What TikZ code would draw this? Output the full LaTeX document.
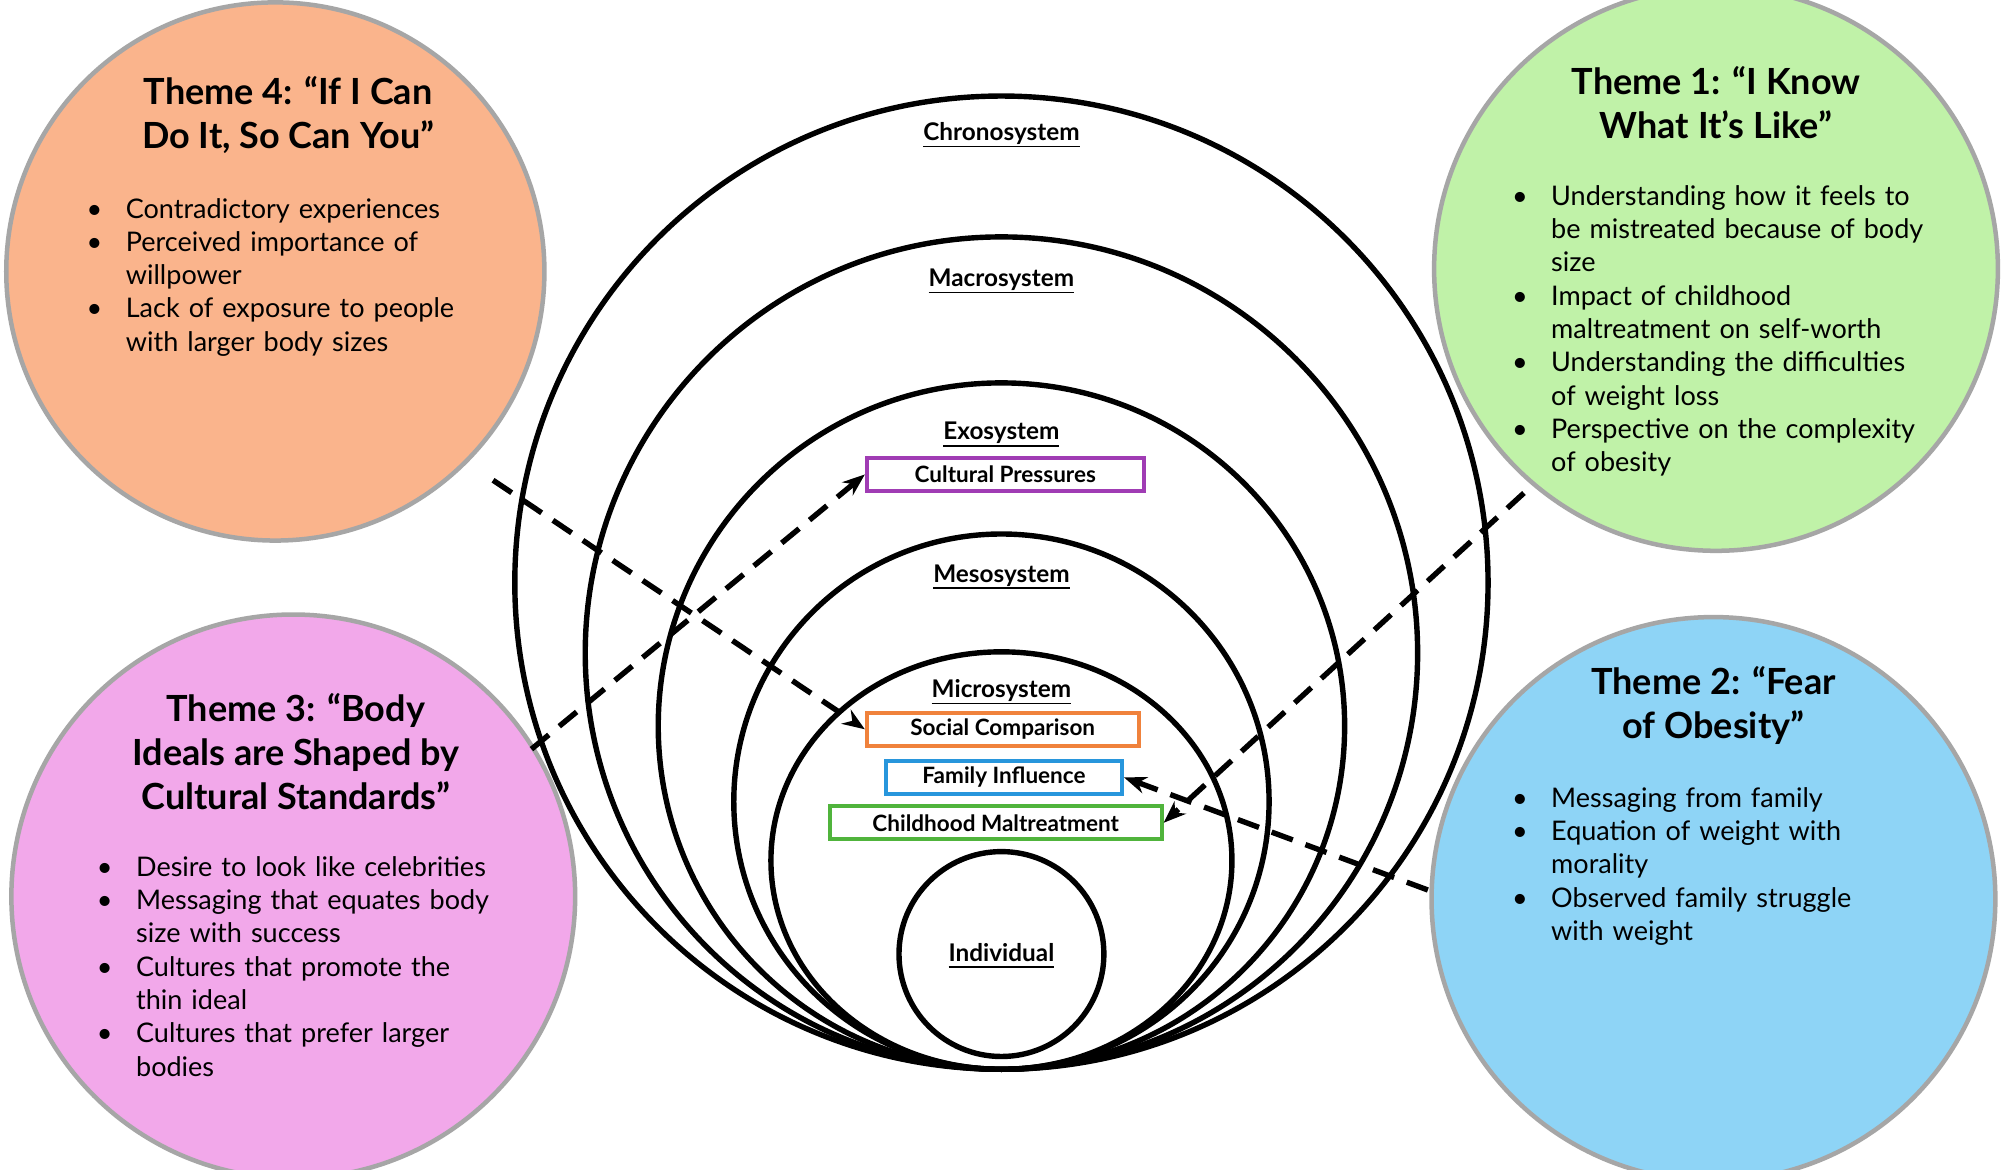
\documentclass[tikz,border=0pt]{standalone}
\usepackage{fontspec}
\setmainfont{Lato}
\usetikzlibrary{arrows.meta}
\begin{document}
\hyphenpenalty=10000 \exhyphenpenalty=10000
\begin{tikzpicture}[x=0.01cm,y=-0.01cm,
 eco/.style={draw=black,line width=1.2pt},
 theme/.style={draw=gray!70,line width=1pt},
 ttl/.style={font=\fontsize{8}{9.7}\selectfont\bfseries,align=center},
 lst/.style={font=\fontsize{6}{7.4}\selectfont,align=left,anchor=north west,inner sep=0pt},
 lab/.style={font=\fontsize{5.4}{6}\selectfont\bfseries},
 box/.style={draw,line width=0.9pt,minimum height=0.26cm,inner sep=1pt,font=\fontsize{5}{6}\selectfont\bfseries},
 arr/.style={dashed,line width=1.2pt,dash pattern=on 5pt off 3pt,-{Stealth[length=5pt]}}]
\useasboundingbox (0,0) rectangle (1568,913);
\fill[white] (0,0) rectangle (1568,913);
\newcommand{\bl}[1]{\hangindent=1.45em\hangafter=1\makebox[1.45em][l]{\textbullet}#1\par}
\newcommand{\ul}[1]{\underline{\smash{#1}}}
% ecological circles
\draw[eco] (782,455) circle (380);
\draw[eco] (782,510) circle (325);
\draw[eco] (782,567) circle (268);
\draw[eco] (782,626) circle (209);
\draw[eco] (782,672) ellipse (180 and 163);
\draw[eco] (782,745) circle (80);
\node[lab] (chr) at (782,113) {\ul{Chronosystem}};
\node[lab] (mac) at (782,227) {\ul{Macrosystem}};
\node[lab] (exo) at (782,347) {\ul{Exosystem}};
\node[lab] (mes) at (782,458) {\ul{Mesosystem}};
\node[lab] (mic) at (782,548) {\ul{Microsystem}};
\node[lab] (ind) at (782,754) {\ul{Individual}};
\node[box,draw={rgb,255:red,160;green,60;blue,180},minimum width=2.16cm] (cp) at (785,370.5) {Cultural Pressures};
\node[box,draw={rgb,255:red,240;green,130;blue,60},minimum width=2.12cm] (sc) at (783,569.5) {Social Comparison};
\node[box,draw={rgb,255:red,40;green,150;blue,220},minimum width=1.84cm] (fi) at (784,607) {Family Influence};
\node[box,draw={rgb,255:red,80;green,180;blue,60},minimum width=2.59cm] (cm) at (777.5,642.5) {Childhood Maltreatment};
% theme circles
\node[theme,circle,fill={rgb,255:red,250;green,180;blue,140},minimum size=4.2cm] (t4) at (215,212) {};
\node[theme,circle,fill={rgb,255:red,192;green,242;blue,168},minimum size=4.4cm] (t1) at (1340,210) {};
\node[theme,circle,fill={rgb,255:red,242;green,168;blue,234},minimum size=4.4cm] (t3) at (229,700) {};
\node[theme,circle,fill={rgb,255:red,142;green,212;blue,246},minimum size=4.4cm] (t2) at (1338,702) {};
\node[ttl] (t4t) at (225,90) {Theme 4: “If I Can\\Do It, So Can You”};
\node[ttl] (t1t) at (1340,80) {Theme 1: “I Know\\What It’s Like”};
\node[ttl] (t3t) at (231,587) {Theme 3: “Body\\Ideals are Shaped by\\Cultural Standards”};
\node[ttl] (t2t) at (1338,551) {Theme 2: “Fear\\of Obesity”};
\node[lst,text width=2.95cm] (l4) at (67,154) {\bl{Contradictory experiences}\bl{Perceived importance of willpower}\bl{Lack of exposure to people with larger body sizes}};
\node[lst,text width=3.25cm] (l1) at (1180,144) {\bl{Understanding how it feels to be mistreated because of body size}\bl{Impact of childhood maltreatment on self-worth}\bl{Understanding the difficulties of weight loss}\bl{Perspective on the complexity of obesity}};
\node[lst,text width=3.1cm] (l3) at (75,668) {\bl{Desire to look like celebrities}\bl{Messaging that equates body size with success}\bl{Cultures that promote the thin ideal}\bl{Cultures that prefer larger bodies}};
\node[lst,text width=2.7cm] (l2) at (1180,614) {\bl{Messaging from family}\bl{Equation of weight with morality}\bl{Observed family struggle with weight}};
% arrows
\coordinate (a4) at (385,375);
\coordinate (a3) at (415,585);
\coordinate (a1) at (1190,385);
\coordinate (a2) at (1115,695);
\draw[arr] (a4) -- (sc.west);
\draw[arr] (a3) -- (cp.west);
\draw[arr] (a1) -- (cm.east);
\draw[arr] (a2) -- (fi.east);
\end{tikzpicture}
\end{document}
